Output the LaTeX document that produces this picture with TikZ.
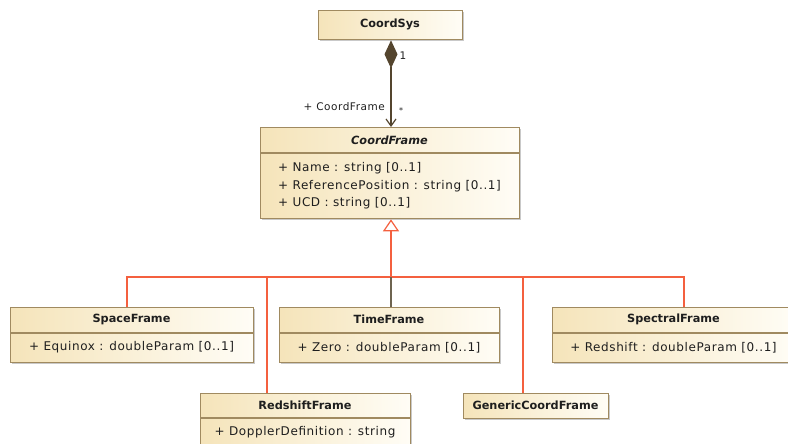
\documentclass[tikz,border=0pt]{standalone}
\usepackage{fontspec}
\setmainfont{DejaVu Sans}
\newfontfamily\umlattr[LetterSpace=5]{DejaVu Sans}
\usetikzlibrary{arrows.meta,shadows}

\definecolor{umlborder}{HTML}{A08A60}
\definecolor{umlfillL}{HTML}{F5E4BA}
\definecolor{umlfillR}{HTML}{FFFDF6}
\definecolor{genred}{HTML}{F4603F}
\definecolor{genstem}{HTML}{6E6450}
\definecolor{assocbrown}{HTML}{54452E}
\definecolor{umltext}{HTML}{1E1E1E}

\begin{document}
\begin{tikzpicture}[x=1pt,y=-1pt,
  classbox/.style={draw=umlborder, line width=1.3pt, left color=umlfillL, right color=umlfillR,
    inner sep=0pt, anchor=north west,
    drop shadow={shadow xshift=1.5pt, shadow yshift=-1.5pt, opacity=0.3, fill=black!70}},
  compsep/.style={draw=umlborder, line width=1.1pt},
  classname/.style={font=\fontsize{11.3}{13}\selectfont\bfseries, text=umltext, inner sep=0pt},
  attrs/.style={font=\umlattr\fontsize{12}{17.5}\selectfont, text=umltext, align=left, inner sep=0pt},
  rolelabel/.style={font=\umlattr\fontsize{10.5}{12}\selectfont, text=umltext, inner sep=0pt},
  genline/.style={draw=genred, line width=1.2pt},
  stemline/.style={draw=genstem, line width=1.2pt},
  assocline/.style={draw=assocbrown, line width=1.2pt}]

\useasboundingbox (0,0) rectangle (788,444);

% ---- classes ----
% CoordSys
\node[classbox, minimum width=144pt, minimum height=29pt] (CoordSys) at (318,10) {};
\node[classname] (CoordSysName) at (390,24.5) {CoordSys};

% CoordFrame (abstract)
\node[classbox, minimum width=259pt, minimum height=91pt] (CoordFrame) at (260,127) {};
\node[classname, font=\fontsize{11.3}{13}\selectfont\bfseries\itshape] (CoordFrameName) at (389.5,140) {CoordFrame};
\draw[compsep] (260,153) -- (519,153);
\node[attrs] (CoordFrameAttrs) at (389.5,186) {+ Name : string [0..1]\\+ ReferencePosition : string [0..1]\\+ UCD : string [0..1]};

% SpaceFrame
\node[classbox, minimum width=243pt, minimum height=55pt] (SpaceFrame) at (10,307) {};
\node[classname] (SpaceFrameName) at (131.5,319.5) {SpaceFrame};
\draw[compsep] (10,333) -- (253,333);
\node[attrs] (SpaceFrameAttrs) at (131.5,347.5) {+ Equinox : doubleParam [0..1]};

% TimeFrame
\node[classbox, minimum width=220pt, minimum height=55pt] (TimeFrame) at (279,307) {};
\node[classname] (TimeFrameName) at (389,319.5) {TimeFrame};
\draw[compsep] (279,333) -- (499,333);
\node[attrs] (TimeFrameAttrs) at (389,347.5) {+ Zero : doubleParam [0..1]};

% SpectralFrame
\node[classbox, minimum width=243pt, minimum height=55pt] (SpectralFrame) at (552,307) {};
\node[classname] (SpectralFrameName) at (673.5,319.5) {SpectralFrame};
\draw[compsep] (552,333) -- (795,333);
\node[attrs] (SpectralFrameAttrs) at (673.5,347.5) {+ Redshift : doubleParam [0..1]};

% RedshiftFrame
\node[classbox, minimum width=210pt, minimum height=70pt] (RedshiftFrame) at (200,393) {};
\node[classname] (RedshiftFrameName) at (305,405.5) {RedshiftFrame};
\draw[compsep] (200,418) -- (410,418);
\node[attrs] (RedshiftFrameAttrs) at (305,432.5) {+ DopplerDefinition : string};

% GenericCoordFrame
\node[classbox, minimum width=145pt, minimum height=25pt] (GenericCoordFrame) at (463,393) {};
\node[classname] (GenericCoordFrameName) at (535.5,405.5) {GenericCoordFrame};

% ---- composition CoordSys -> CoordFrame ----
\draw[assocline, {Diamond[length=28pt,width=13pt,fill=assocbrown]}-{Straight Barb[length=7pt,width=10pt]}]
  (CoordSys.south -| 391,0) -- (CoordFrame.north -| 391,0);
\node[rolelabel, anchor=east] (roleName) at (385,107) {+ CoordFrame};
\node[rolelabel] (multOne) at (403,56) {1};
\node[rolelabel, font=\fontsize{8}{10}\selectfont] (multMany) at (401,111) {*};

% ---- generalization tree ----
\coordinate (hub) at (391,277);
\draw[genline, -{Triangle[open, length=12pt, width=16pt, fill=white]}] (hub) -- (CoordFrame.south -| hub);
\draw[genline] (SpaceFrame.north -| 127,0) |- (hub);
\draw[genline] (RedshiftFrame.north -| 267,0) |- (hub);
\draw[genline] (GenericCoordFrame.north -| 523,0) |- (hub);
\draw[genline] (SpectralFrame.north -| 684,0) |- (hub);
\draw[stemline] (TimeFrame.north -| hub) -- (hub);

\end{tikzpicture}
\end{document}
